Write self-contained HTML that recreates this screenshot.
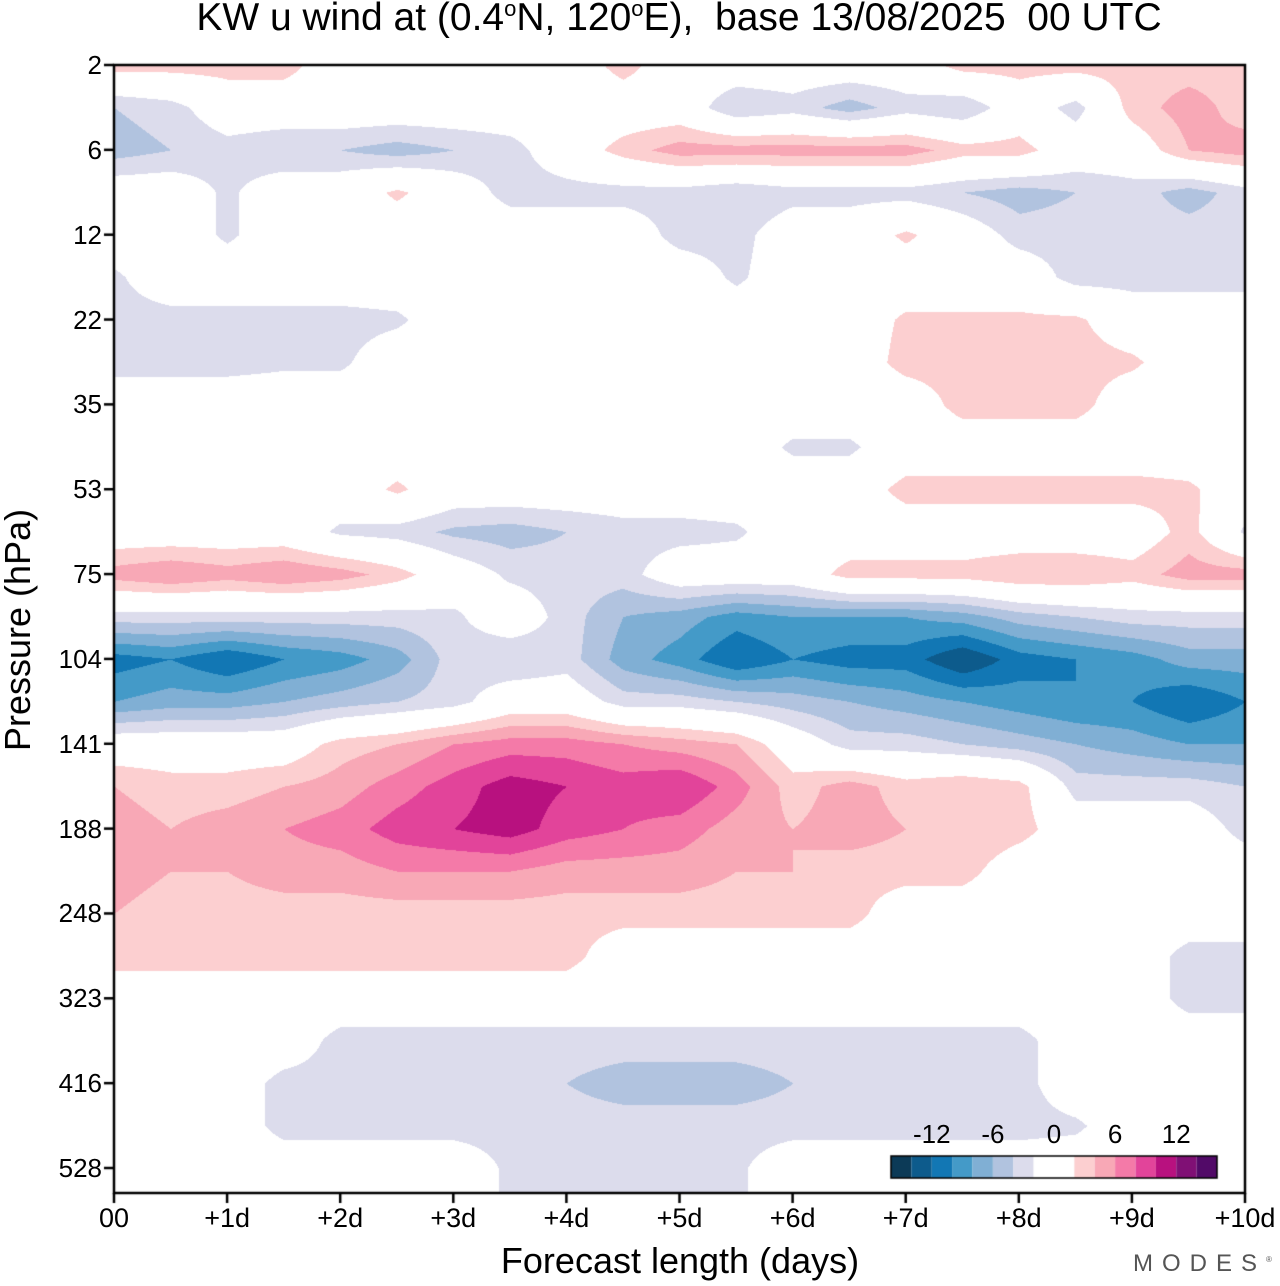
<!DOCTYPE html>
<html><head><meta charset="utf-8">
<style>
html,body{margin:0;padding:0;background:#fff;}
body{width:1280px;height:1286px;position:relative;overflow:hidden;font-family:"Liberation Sans",sans-serif;}
.t{position:absolute;color:#000;white-space:nowrap;z-index:2;}
</style></head>
<body>
<canvas id="cv" width="1280" height="1286" style="position:absolute;left:0;top:0;z-index:0"></canvas>
<div class="t" style="left:0;width:1358px;top:-4px;font-size:39px;text-align:center;">KW u wind at (0.4<sup style="font-size:22px">o</sup>N, 120<sup style="font-size:22px">o</sup>E),&nbsp; base 13/08/2025&nbsp; 00 UTC</div>
<div class="t" style="left:18px;top:630px;font-size:36px;transform:translate(-50%,-50%) rotate(-90deg);transform-origin:center;">Pressure (hPa)</div>
<div class="t" style="left:680px;top:1240px;font-size:36px;transform:translateX(-50%);">Forecast length (days)</div>
<div class="t" style="left:1133px;top:1250px;font-size:24px;letter-spacing:9px;color:#555;">MODES<sup style="font-size:8px;letter-spacing:0">®</sup></div>
<div id="labels"></div>
<script>
const levels = ["2","6","12","22","35","53","75","104","141","188","248","323","416","528"];
const dayLabels = ["00","+1d","+2d","+3d","+4d","+5d","+6d","+7d","+8d","+9d","+10d"];
const cbLabels = [-12,-6,0,6,12];
// u wind grid: rows at half-tick pressure spacing (top 2 hPa → 528 hPa), columns every half day (0..10 d)
const r00=[3,3,3,3,0,0,0,0,0,3,0,0,0,0,0,3,3,3,3,3,3];
const r01=[-4,-3,0,0,0,0,0,0,0,0,0,-4,-3,-5,-3,-4,0,-3,3,5,3];
const r02=[-5,-4,-3,-4,-4,-5,-4,-3,0,3,5,5,5,5,5,3,3,0,0,4,5];
const r03=[0,0,-2.5,0,0,2.5,0,-3,-3,-3,-3,-4,-3,-3,-3,-4,-5,-4,-3,-5,-3];
const r04=[0,0,-2.5,0,0,0,0,0,0,0,-3,-3,0,0,2.5,0,-3,-3,-3,-3,-3];
const r05=[-2.5,0,0,0,0,0,0,0,0,0,0,-2.5,0,0,0,0,0,-3,-3,-3,-3];
const r06=[-3,-3,-3,-3,-3,-2.5,0,0,0,0,0,0,0,0,2.5,2.5,2.5,2.5,0,0,0];
const r07=[-3,-3,-3,-2.5,-2.5,0,0,0,0,0,0,0,0,0,3,3,3,3,2.5,0,0];
const r08=[0,0,0,0,0,0,0,0,0,0,0,0,0,0,0,3,3,3,0,0,0];
const r09=[0,0,0,0,0,0,0,0,0,0,0,0,-2.5,-2.5,0,0,0,0,0,0,0];
const r10=[0,0,0,0,0,2.5,0,0,0,0,0,0,0,0,3,3,3,3,3,2.5,0];
const r11=[0,0,0,0,-2.5,-3,-4.5,-5,-4,-3,-3,-2.5,0,0,0,0,0,0,0,3,-2.5];
const r12=[5,6,5,6,5,3,0,-2.5,-3,-3,0,0,0,3,3,3,4,4,3,5,5];
const r13=[-3,-3,-3,-3,-3,-3,-2.5,0,-3,-6,-7,-9,-8,-8,-8,-7,-5,-4,-3,-3,-3];
const r14=[-11,-10,-12,-10,-9,-7,-3,-4,-3,-7,-9,-12,-10,-11,-11,-14,-11,-10,-9,-7,-7];
const r15=[-8,-7,-7,-6,-5,-4,-3,0,0,-3,-3,-4,-5,-6,-7,-8,-9,-10,-10,-12,-10];
const r16=[0,0,0,0,3,4,6,7,7,6,5,4,0,-3,-3,-4,-5,-6,-7,-8,-8];
const r17=[4,3,3,4,5,7,9,11,10,9,10,7,3,5,3,4,3,-3,-3,-3,-4];
const r18=[5,4,5,6,7,9,10,11,9,8,7,5,4,5,4,4,3,0,0,0,-3];
const r19=[5,4,4,5,5,6,6,6,5,5,5,4,4,3,3,3,0,0,0,0,0];
const r20=[4,3,3,3,3,3,3,3,3,3,3,3,3,3,0,0,0,0,0,0,0];
const r21=[3,3,3,3,3,3,3,3,3,0,0,0,0,0,0,0,0,0,0,-3,-3];
const r22=[0,0,0,0,0,0,0,0,0,0,0,0,0,0,0,0,0,0,0,-3,-3];
const r23=[0,0,0,0,-3,-3,-3,-3,-3,-3,-3,-3,-3,-3,-3,-3,-3,0,0,0,0];
const r24=[0,0,0,-3,-3,-3,-3,-3,-4,-5,-5,-5,-4,-3,-3,-3,-3,0,0,0,0];
const r25=[0,0,0,-3,-3,-3,-3,-3,-3,-3,-3,-3,-3,-3,-3,-3,-3,-2.5,0,0,0];
const r26=[0,0,0,0,0,0,0,-2.5,-2.5,-2.5,-2.5,-2.5,0,0,0,0,0,0,0,0,0];
const grid=[r00,r01,r02,r03,r04,r05,r06,r07,r08,r09,r10,r11,r12,r13,r14,r15,r16,r17,r18,r19,r20,r21,r22,r23,r24,r25,r26];
const bounds=[-16,-14,-12,-10,-8,-6,-4,-2,2,4,6,8,10,12,14,16];
const colors=["#0c3a57","#0d5b8c","#1277b4","#449ac8","#80afd4","#b1c3df","#dcdcec","#ffffff","#fccfd0","#f8a8b6","#f47aa8","#e2449a","#b8117f","#801075","#520a68"];

const L=114,R=1245,T=65,B=1193;
const xs=d=>L+(R-L)*d/10;
const ys=i=>T+(1168-T)*i/13;
const cv=document.getElementById('cv'),ctx=cv.getContext('2d');
ctx.fillStyle='#fff';ctx.fillRect(0,0,1280,1286);
function colorIdx(v){for(let k=0;k<colors.length;k++){if(v<bounds[k+1])return k;}return colors.length-1;}
const rgb=colors.map(c=>[parseInt(c.slice(1,3),16),parseInt(c.slice(3,5),16),parseInt(c.slice(5,7),16)]);
const W=R-L,H=B-T;
const img=ctx.createImageData(W,H);
const nr=grid.length,nc=grid[0].length;
for(let py=0;py<H;py++){
  let gy=py/((ys(13)-T)/(nr-1)); if(gy>nr-1)gy=nr-1;
  const y0=Math.floor(gy),y1=Math.min(y0+1,nr-1),fy=gy-y0;
  for(let px=0;px<W;px++){
    const gx=px/W*(nc-1);
    const x0=Math.floor(gx),x1=Math.min(x0+1,nc-1),fx=gx-x0;
    const v=(grid[y0][x0]*(1-fx)+grid[y0][x1]*fx)*(1-fy)+(grid[y1][x0]*(1-fx)+grid[y1][x1]*fx)*fy;
    const c=rgb[colorIdx(v)];const o=(py*W+px)*4;
    img.data[o]=c[0];img.data[o+1]=c[1];img.data[o+2]=c[2];img.data[o+3]=255;
  }
}
ctx.putImageData(img,L,T);
ctx.strokeStyle='#000';ctx.lineWidth=2.5;
ctx.strokeRect(L,T,W,H);
const lab=document.getElementById('labels');
levels.forEach((s,i)=>{
  const y=ys(i);
  ctx.beginPath();ctx.moveTo(L-10,y);ctx.lineTo(L,y);ctx.stroke();
  const d=document.createElement('div');d.className='t';
  
  
  d.style.cssText=`right:${1280-L+12}px;top:${y-15}px;font-size:26px;`;d.textContent=s;lab.appendChild(d);
});
dayLabels.forEach((s,i)=>{
  const x=xs(i);
  ctx.beginPath();ctx.moveTo(x,B);ctx.lineTo(x,B+10);ctx.stroke();
  const d=document.createElement('div');d.className='t';
  
  
  d.style.cssText=`left:${x}px;top:${B+10}px;font-size:27px;transform:translateX(-50%);`;d.textContent=s;lab.appendChild(d);
});
const cbL=891,cbR=1217,cbT=1156,cbB=1178;
const cbx=v=>cbL+(cbR-cbL)*(v+16)/32;
colors.forEach((c,k)=>{ctx.fillStyle=c;ctx.fillRect(cbx(bounds[k]),cbT,cbx(bounds[k+1])-cbx(bounds[k]),cbB-cbT);});
ctx.lineWidth=1.5;ctx.strokeRect(cbL,cbT,cbR-cbL,cbB-cbT);
cbLabels.forEach(v=>{
  const d=document.createElement('div');d.className='t';
  
  
  d.style.cssText=`left:${cbx(v)}px;top:1119px;font-size:26px;transform:translateX(-50%);`;d.textContent=v;lab.appendChild(d);
});
</script>
</body></html>
